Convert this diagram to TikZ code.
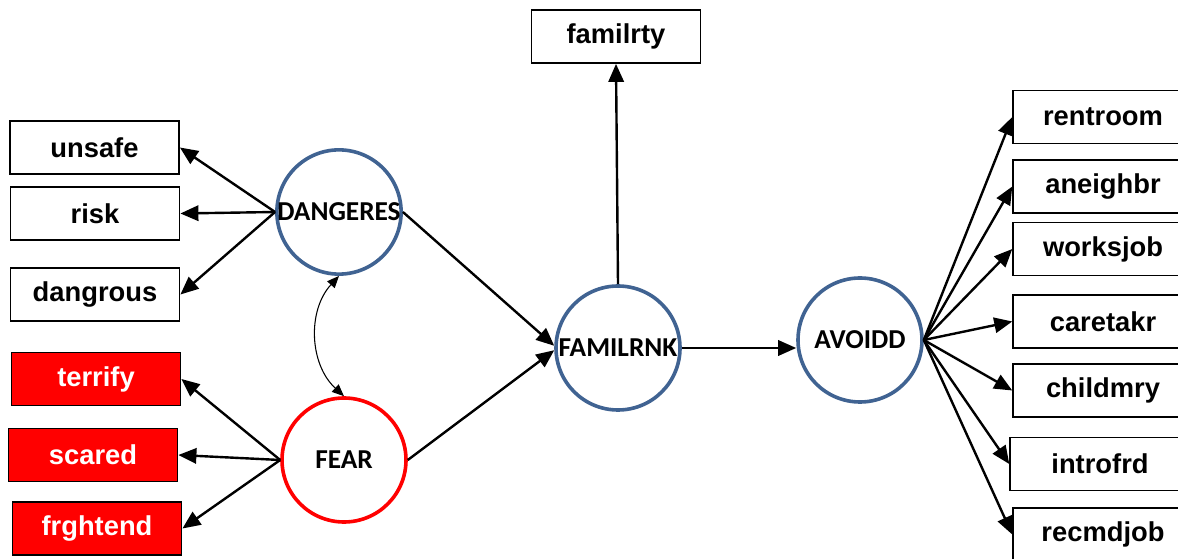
\documentclass[tikz,border=0pt]{standalone}
\usepackage{fontspec}
\setmainfont{Liberation Sans}
\newfontfamily\latfont{Carlito}
\usetikzlibrary{arrows.meta}
\definecolor{latblue}{RGB}{64,99,146}
\definecolor{fearred}{RGB}{255,0,0}
\tikzset{
  indbox/.style={draw=black, line width=1.1pt, fill=white, minimum width=127pt,
    minimum height=40pt, inner sep=0pt, font=\fontsize{20.5}{24}\selectfont\bfseries},
  redbox/.style={indbox, fill=fearred, text=white},
  widebox/.style={indbox, minimum width=135pt},
  latent/.style={circle, draw=latblue, line width=2.7pt, fill=white, minimum size=93pt,
    inner sep=0pt, font=\latfont\fontsize{20.5}{24}\selectfont\bfseries},
  fearlat/.style={latent, draw=fearred},
  path/.style={line width=1.8pt, -{Triangle[length=13.5pt,width=11.5pt]}},
  cov/.style={line width=0.8pt, {Triangle[length=9pt,width=7.5pt]}-{Triangle[length=9pt,width=7.5pt]}}
}
\begin{document}
\begin{tikzpicture}[x=0.75pt, y=-0.75pt]
\useasboundingbox (0,0) rectangle (1178,559);
\clip (0,0) rectangle (1178,559);

% latent variables
\node[latent]  (dang) at (339,212) {DANGERES};
\node[fearlat] (fear) at (344,460) {FEAR};
\node[latent]  (fam)  at (618,348) {FAMILRNK};
\node[latent]  (avo)  at (860,340) {AVOIDD};

% indicators of DANGERES
\node[indbox] (unsafe)   at (94.5,147.5) {unsafe};
\node[indbox] (risk)     at (95,213.5)   {risk};
\node[indbox] (dangrous) at (95,294.5)   {dangrous};

% indicators of FEAR
\node[redbox] (terrify)  at (96,379)     {terrify};
\node[redbox] (scared)   at (93,455)     {scared};
\node[redbox] (frghtend) at (97,528.5)   {frghtend};

% indicator of FAMILRNK
\node[indbox] (familrty) at (616,36.5)   {familrty};

% indicators of AVOIDD
\node[widebox] (rentroom) at (1103,117)   {rentroom};
\node[widebox] (aneighbr) at (1103,186.5) {aneighbr};
\node[widebox] (worksjob) at (1103,249)   {worksjob};
\node[widebox] (caretakr) at (1103,321.5) {caretakr};
\node[widebox] (childmry) at (1103,390.5) {childmry};
\node[widebox] (introfrd) at (1100,464)   {introfrd};
\node[widebox] (recmdjob) at (1103,534.5) {recmdjob};

% loadings
\foreach \t in {unsafe,risk,dangrous} \draw[path] (dang.west) -- (\t.east);
\foreach \t in {terrify,scared,frghtend} \draw[path] (fear.west) -- (\t.east);
\foreach \t in {rentroom,aneighbr,worksjob,caretakr,childmry,introfrd,recmdjob}
  \draw[path] (avo.east) -- (\t.west);
\draw[path] (fam.north) -- (familrty.south);

% structural paths
\draw[path] (dang.east) -- (fam.178);
\draw[path] (fear.east) -- (fam.182);
\draw[path] (fam.east) -- (fam.east -| avo.west);

% covariance
\draw[cov] (dang.south) to[bend right=45] (fear.north);
\end{tikzpicture}
\end{document}
